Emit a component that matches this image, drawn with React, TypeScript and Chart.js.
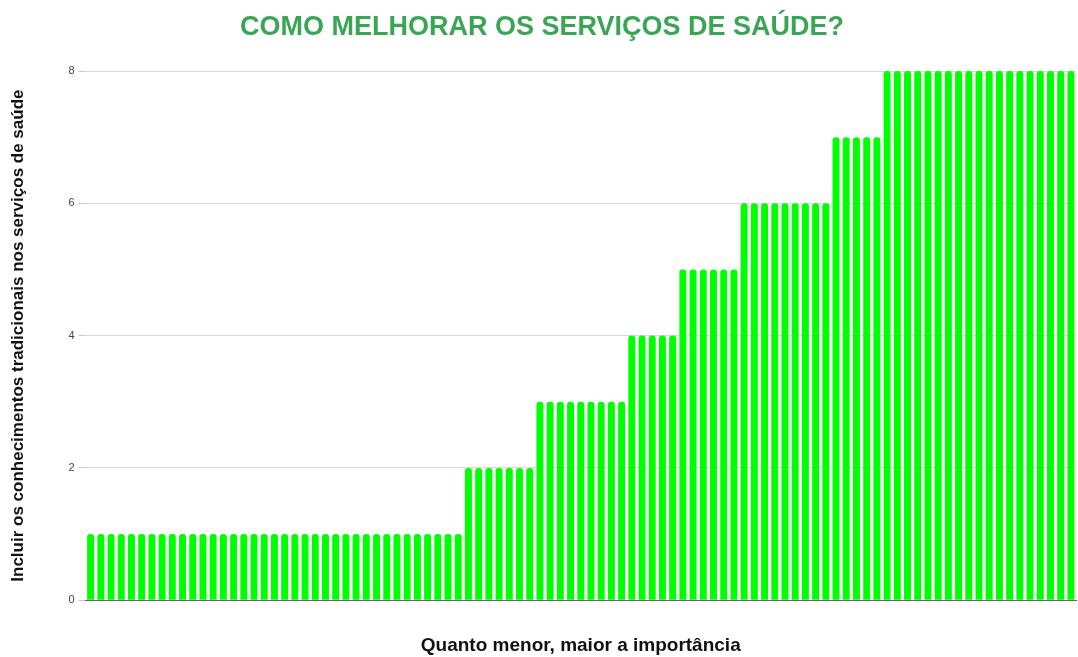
import React, { useEffect, useRef } from "react";
import { Chart, registerables } from "chart.js";

Chart.register(...registerables);

const titleText = "COMO MELHORAR OS SERVIÇOS DE SAÚDE?";
const yTitle = "Incluir os conhecimentos tradicionais nos serviços de saúde";
const xTitle = "Quanto menor, maior a importância";

const values: number[] = [
  1, 1, 1, 1, 1, 1, 1, 1, 1, 1, 1, 1, 1, 1, 1, 1, 1, 1, 1, 1,
  1, 1, 1, 1, 1, 1, 1, 1, 1, 1, 1, 1, 1, 1, 1, 1, 1,
  2, 2, 2, 2, 2, 2, 2,
  3, 3, 3, 3, 3, 3, 3, 3, 3,
  4, 4, 4, 4, 4,
  5, 5, 5, 5, 5, 5,
  6, 6, 6, 6, 6, 6, 6, 6, 6,
  7, 7, 7, 7, 7,
  8, 8, 8, 8, 8, 8, 8, 8, 8, 8, 8, 8, 8, 8, 8, 8, 8, 8, 8,
];
const categories: string[] = values.map((_, i) => String(i + 1));
const yTicks: number[] = [0, 2, 4, 6, 8];

export default function App() {
  const ref = useRef<HTMLCanvasElement | null>(null);
  useEffect(() => {
    if (!ref.current) return;
    const chart = new Chart(ref.current, {
      type: "bar",
      data: {
        labels: categories,
        datasets: [
          {
            data: values,
            backgroundColor: "#00ff00",
            borderRadius: { topLeft: 3, topRight: 3, bottomLeft: 0, bottomRight: 0 },
            borderSkipped: false,
            barPercentage: 0.68,
            categoryPercentage: 1,
          },
        ],
      },
      options: {
        animation: false,
        responsive: true,
        maintainAspectRatio: false,
        layout: { padding: { left: 8, right: 2, top: 4, bottom: 0 } },
        plugins: {
          legend: { display: false },
          tooltip: { enabled: false },
          title: {
            display: true,
            text: titleText,
            color: "#3aa655",
            font: { family: "Liberation Sans, Arial, sans-serif", size: 27, weight: "bold" },
            padding: { top: 7, bottom: 27.6 },
          },
        },
        scales: {
          x: {
            grid: { display: false },
            border: { display: true, color: "#666666", width: 1 },
            ticks: { display: false },
            title: {
              display: true,
              text: xTitle,
              color: "#111111",
              font: { family: "Liberation Sans, Arial, sans-serif", size: 19, weight: "bold" },
              padding: { top: 26, bottom: 0 },
            },
          },
          y: {
            min: 0,
            max: 8,
            afterBuildTicks: (axis: any) => {
              axis.ticks = yTicks.map((v) => ({ value: v }));
            },
            grid: { color: "#d9d9d9", drawTicks: true, tickLength: 7, tickColor: "#cccccc" },
            border: { display: false },
            ticks: {
              color: "#444444",
              font: { family: "Liberation Sans, Arial, sans-serif", size: 11 },
              padding: 4,
            },
            title: {
              display: true,
              text: yTitle,
              color: "#111111",
              font: { family: "Liberation Sans, Arial, sans-serif", size: 17, weight: "bold" },
              padding: { top: 0, bottom: 36 },
            },
          },
        },
      },
    });
    return () => chart.destroy();
  }, []);
  return (
    <div style={{ position: "absolute", left: 0, top: 0, width: 1078, height: 657, background: "#ffffff" }}>
      <canvas ref={ref} />
    </div>
  );
}
